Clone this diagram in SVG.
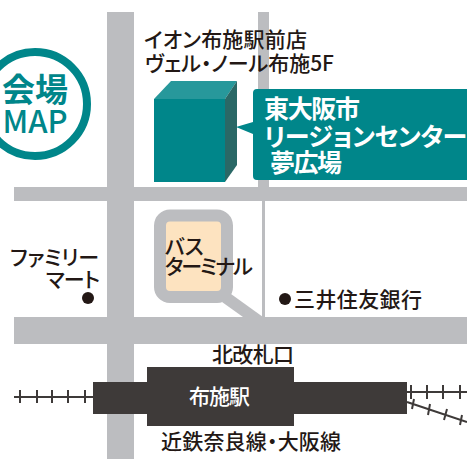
<svg xmlns="http://www.w3.org/2000/svg" width="467" height="459" viewBox="0 0 467 459">
<style>
text{font-family:"Noto Sans CJK JP","Noto Sans",sans-serif;fill:#231815;font-size:21px;font-weight:500;font-feature-settings:"palt"}
.road{fill:#bcbdc0}
.teal{fill:#00868a}
.w{fill:#fff;font-weight:700;font-size:25px}
.m{fill:#00868a;font-weight:700}
.tie{stroke:#3e3a39;stroke-width:2;fill:none}
.st{fill:#3e3a39}
</style>
<rect width="467" height="459" fill="#fff"/>
<g id="roads">
<rect class="road" x="107" y="12" width="27" height="447"/>
<rect class="road" x="258" y="12" width="11" height="175"/>
<rect class="road" x="262" y="200" width="3" height="117"/>
<rect class="road" x="14" y="187" width="453" height="14"/>
<rect class="road" x="14" y="317" width="453" height="27"/>
<polygon class="road" points="222,302 231,294 263,317 243,317"/>
</g>
<g id="map-badge">
<circle cx="35" cy="104" r="52" fill="#fff" stroke="#00868a" stroke-width="8"/>
<text class="m" x="35" y="102" text-anchor="middle" style="font-size:33px">会場</text>
<text class="m" x="35" y="133" text-anchor="middle" style="font-size:31px;font-weight:500">MAP</text>
</g>
<g id="aeon-label">
<text x="144" y="47" textLength="163">イオン布施駅前店</text>
<text x="145" y="71" textLength="189">ヴェル・ノール布施5F</text>
</g>
<g id="venue-building">
<rect class="teal" x="154" y="99" width="71" height="83"/>
<polygon fill="#27989b" points="154,99 171,81 237,81 225,99"/>
<polygon fill="#2a6866" points="225,99 237,81 237,165 225,182"/>
</g>
<g id="venue-callout">
<path class="teal" d="M257,89H467V180H257a4,4 0 0 1-4-4V134L236,127L253,122V93a4,4 0 0 1 4-4Z"/>
<text class="w" x="264" y="118" textLength="96">東大阪市</text>
<text class="w" x="264" y="146" textLength="203">リージョンセンター</text>
<text class="w" x="270" y="172" textLength="72">夢広場</text>
</g>
<g id="bus-terminal">
<rect x="160" y="215.500" width="67" height="81.500" rx="10" fill="#fde3c0" stroke="#bcbdc0" stroke-width="12"/>
<text x="165" y="254">バス</text>
<text x="165" y="274" textLength="88">ターミナル</text>
</g>
<g id="familymart">
<text x="10" y="265" textLength="89">ファミリー</text>
<text x="46" y="287" textLength="54">マート</text>
<circle cx="88" cy="298" r="6" fill="#231815"/>
</g>
<g id="smbc">
<circle cx="285" cy="299" r="6" fill="#231815"/>
<text x="294" y="307" textLength="128">三井住友銀行</text>
</g>
<g id="tracks">
<path class="tie" d="M14,397H93M20,390V403M37,390V403M52,390V403M68,390V403M85,390V403"/>
<path class="tie" d="M407,392H467M411,385V399M427,385V399M443,385V399M460,385V399"/>
<path class="tie" d="M407,402L467,422M414,399L412,409M430,404L428,415M447,409L444,420M462,415L460,425"/>
</g>
<g id="station">
<rect class="st" x="147" y="367" width="147" height="59"/>
<rect class="st" x="93" y="382" width="314" height="32"/>
<text x="189" y="404" style="fill:#fff" textLength="61">布施駅</text>
</g>
<g id="labels">
<text x="212" y="362" textLength="82">北改札口</text>
<text x="161" y="449" textLength="180">近鉄奈良線・大阪線</text>
</g>
</svg>
